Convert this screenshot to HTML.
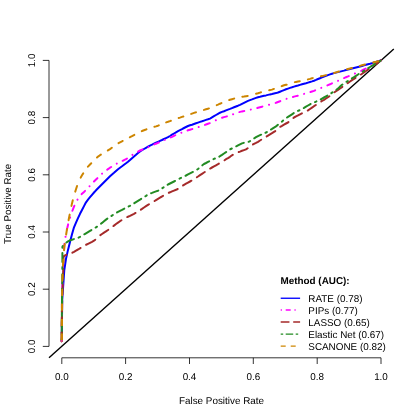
<!DOCTYPE html>
<html><head><meta charset="utf-8"><title>ROC</title>
<style>
html,body{margin:0;padding:0;background:#fff;}
body{width:419px;height:419px;overflow:hidden;}
svg{display:block;}
text{font-family:"Liberation Sans",sans-serif;font-size:9.9px;fill:#000;text-rendering:geometricPrecision;}
</style></head><body>
<svg width="419" height="419" viewBox="0 0 419 419">
<rect width="419" height="419" fill="#fff"/>
<line x1="49.0" y1="357.8" x2="393.8" y2="49.0" stroke="#000" stroke-width="1.4"/>
<path d="M61.7,341.3 L62.2,300.0 L64.3,270.0 L66.0,258.8 L68.0,249.9 L70.0,242.0 L72.0,234.3 L74.0,227.3 L76.0,222.7 L78.0,218.2 L80.0,213.8 L82.0,210.0 L84.0,206.1 L86.0,202.3 L88.0,199.7 L90.0,197.2 L92.0,194.8 L94.0,192.5 L96.0,190.3 L98.0,188.2 L100.0,186.2 L102.0,184.2 L104.0,182.2 L106.0,180.2 L108.0,178.2 L110.0,176.2 L112.0,174.4 L114.0,172.7 L116.0,170.9 L118.0,169.2 L120.0,167.7 L122.0,166.3 L124.0,164.8 L126.0,163.3 L128.0,161.7 L130.0,160.0 L132.0,158.2 L134.0,156.5 L136.0,154.8 L138.0,153.0 L140.0,151.4 L142.0,150.2 L144.0,149.0 L146.0,147.8 L148.0,146.7 L150.0,145.6 L152.0,144.7 L154.0,143.7 L156.0,142.7 L158.0,141.8 L160.0,140.9 L162.0,140.0 L164.0,139.0 L166.0,138.1 L168.0,137.2 L170.0,136.0 L172.0,134.7 L174.0,133.5 L176.0,132.3 L178.0,131.1 L180.0,130.1 L182.0,129.1 L184.0,128.0 L186.0,127.0 L188.0,126.0 L190.0,125.3 L192.0,124.7 L194.0,124.0 L196.0,123.3 L198.0,122.6 L200.0,121.9 L202.0,121.3 L204.0,120.6 L206.0,119.9 L208.0,119.3 L210.0,118.6 L212.0,117.4 L214.0,116.2 L216.0,115.0 L218.0,113.8 L220.0,112.7 L222.0,111.9 L224.0,111.2 L226.0,110.4 L228.0,109.6 L230.0,108.9 L232.0,108.1 L234.0,107.3 L236.0,106.5 L238.0,105.7 L240.0,104.8 L242.0,103.8 L244.0,102.8 L246.0,101.8 L248.0,100.9 L250.0,100.1 L252.0,99.4 L254.0,98.6 L256.0,97.9 L258.0,97.2 L260.0,96.8 L262.0,96.3 L264.0,95.8 L266.0,95.4 L268.0,94.9 L270.0,94.4 L272.0,94.0 L274.0,93.5 L276.0,93.1 L278.0,92.5 L280.0,91.7 L282.0,90.9 L284.0,90.1 L286.0,89.3 L288.0,88.6 L290.0,87.9 L292.0,87.3 L294.0,86.6 L296.0,86.0 L298.0,85.5 L300.0,84.9 L302.0,84.3 L304.0,83.7 L306.0,83.2 L308.0,82.6 L310.0,82.0 L312.0,81.4 L314.0,80.7 L316.0,79.9 L318.0,79.0 L320.0,78.2 L322.0,77.4 L324.0,76.6 L326.0,75.9 L328.0,75.1 L330.0,74.4 L332.0,73.7 L334.0,73.1 L336.0,72.6 L338.0,72.1 L340.0,71.6 L342.0,71.1 L344.0,70.6 L346.0,70.0 L348.0,69.5 L350.0,69.0 L352.0,68.5 L354.0,68.0 L356.0,67.5 L358.0,67.0 L360.0,66.5 L362.0,66.0 L364.0,65.4 L366.0,64.8 L368.0,64.2 L370.0,63.7 L372.0,63.1 L374.0,62.5 L376.0,61.9 L378.0,61.3 L380.0,60.7 L381.0,60.4" fill="none" stroke="#0000FF" stroke-width="2.0" stroke-linejoin="round" stroke-linecap="butt"/>
<path d="M61.7,341.3 L62.0,300.0 L62.8,270.0 L64.3,245.4 L66.0,233.4 L68.0,224.9 L70.0,217.8 L72.0,211.8 L74.0,206.6 L76.0,202.1 L78.0,198.8 L80.0,196.2 L82.0,193.7 L84.0,191.9 L86.0,190.0 L88.0,187.9 L90.0,185.7 L92.0,183.6 L94.0,181.5 L96.0,179.5 L98.0,177.6 L100.0,175.6 L102.0,173.7 L104.0,172.2 L106.0,170.6 L108.0,169.1 L110.0,167.7 L112.0,166.5 L114.0,165.2 L116.0,164.0 L118.0,163.0 L120.0,162.0 L122.0,161.1 L124.0,160.1 L126.0,159.2 L128.0,157.8 L130.0,156.3 L132.0,155.1 L134.0,153.9 L136.0,152.7 L138.0,151.6 L140.0,150.5 L142.0,149.7 L144.0,148.9 L146.0,148.1 L148.0,147.3 L150.0,146.4 L152.0,145.5 L154.0,144.6 L156.0,143.7 L158.0,142.9 L160.0,142.0 L162.0,141.2 L164.0,140.3 L166.0,139.4 L168.0,138.6 L170.0,137.7 L172.0,136.8 L174.0,135.8 L176.0,134.9 L178.0,134.0 L180.0,133.2 L182.0,132.5 L184.0,131.7 L186.0,131.0 L188.0,130.3 L190.0,129.7 L192.0,129.1 L194.0,128.5 L196.0,127.9 L198.0,127.3 L200.0,126.6 L202.0,125.9 L204.0,125.2 L206.0,124.5 L208.0,123.8 L210.0,123.1 L212.0,122.1 L214.0,121.1 L216.0,120.2 L218.0,119.2 L220.0,118.3 L222.0,117.7 L224.0,117.1 L226.0,116.6 L228.0,116.1 L230.0,115.4 L232.0,114.7 L234.0,114.0 L236.0,113.2 L238.0,112.5 L240.0,111.9 L242.0,111.4 L244.0,111.0 L246.0,110.5 L248.0,110.1 L250.0,109.8 L252.0,109.3 L254.0,108.8 L256.0,108.3 L258.0,107.7 L260.0,107.2 L262.0,106.7 L264.0,106.2 L266.0,105.7 L268.0,105.1 L270.0,104.5 L272.0,103.9 L274.0,103.4 L276.0,102.8 L278.0,102.0 L280.0,101.2 L282.0,100.4 L284.0,99.6 L286.0,99.0 L288.0,98.4 L290.0,97.8 L292.0,97.2 L294.0,96.6 L296.0,96.1 L298.0,95.6 L300.0,95.0 L302.0,94.5 L304.0,93.9 L306.0,93.3 L308.0,92.7 L310.0,92.1 L312.0,91.5 L314.0,90.9 L316.0,90.0 L318.0,89.2 L320.0,88.4 L322.0,87.6 L324.0,86.8 L326.0,86.0 L328.0,85.1 L330.0,84.3 L332.0,83.4 L334.0,82.5 L336.0,81.6 L338.0,80.8 L340.0,79.9 L342.0,79.0 L344.0,78.1 L346.0,77.2 L348.0,76.4 L350.0,75.5 L352.0,74.7 L354.0,73.9 L356.0,73.0 L358.0,72.2 L360.0,71.4 L362.0,70.5 L364.0,69.4 L366.0,68.4 L368.0,67.3 L370.0,66.2 L372.0,65.2 L374.0,64.1 L376.0,63.1 L378.0,62.0 L380.0,60.9 L381.0,60.4" fill="none" stroke="#FF00FF" stroke-width="2.0" stroke-linejoin="round" stroke-linecap="round" stroke-dasharray="0 6.91 0.17 6.92 5.49 6.92 0.17 6.92 5.49 6.92 0.17 6.92 5.49 6.92 0.17 6.92 5.5 6.93 0.18 6.93 5.57 6.97 0.19 6.97 5.63 7.02 0.21 7.02 5.35 6.81 0.14 6.81 4.82 6.41 0.02 6.41 4.84 6.43 0.02 6.43 4.93 6.5 0.03 6.5 4.96 6.52 0.04 6.52 4.85 6.43 0.02 6.43 4.93 6.5 0.03 6.5 4.98 6.54 0.05 6.54 5.05 6.59 0.06 6.59 5.16 6.67 0.09 6.67 5.01 6.56 0.05 6.56 5.09 6.62 0.07 6.62 5.34 6.8 0.13 6.8 5.06 6.59 0.06 6.59 5.02 6.56 0.05 6.56 5.02 6.57 0.06 6.57 5.03 6.57 0.06 6.57 5.15 6.66 0.09 6.66 5.15 6.66 0.09 6.66 3.78 50"/>
<path d="M61.7,341.3 L62.2,300.0 L63.2,270.0 L63.5,257.0 L64.5,255.6 L66.0,255.0 L68.0,254.3 L70.0,253.7 L72.0,252.9 L74.0,251.8 L76.0,250.6 L78.0,249.5 L80.0,248.3 L82.0,247.1 L84.0,245.9 L86.0,244.8 L88.0,243.8 L90.0,242.8 L92.0,241.8 L94.0,240.7 L96.0,239.1 L98.0,237.3 L100.0,235.4 L102.0,234.0 L104.0,232.6 L106.0,231.3 L108.0,230.0 L110.0,228.6 L112.0,227.2 L114.0,225.6 L116.0,224.0 L118.0,222.6 L120.0,221.2 L122.0,219.9 L124.0,218.8 L126.0,217.6 L128.0,216.7 L130.0,215.9 L132.0,214.8 L134.0,213.8 L136.0,212.7 L138.0,211.4 L140.0,210.2 L142.0,208.9 L144.0,207.5 L146.0,206.2 L148.0,204.9 L150.0,203.6 L152.0,202.5 L154.0,201.4 L156.0,200.1 L158.0,198.8 L160.0,197.6 L162.0,196.5 L164.0,195.3 L166.0,194.2 L168.0,193.1 L170.0,192.3 L172.0,191.4 L174.0,190.6 L176.0,189.8 L178.0,188.9 L180.0,187.5 L182.0,186.1 L184.0,184.9 L186.0,183.7 L188.0,182.6 L190.0,181.5 L192.0,180.4 L194.0,179.1 L196.0,177.8 L198.0,176.5 L200.0,175.1 L202.0,173.8 L204.0,172.5 L206.0,171.3 L208.0,170.0 L210.0,168.6 L212.0,167.5 L214.0,166.4 L216.0,165.3 L218.0,164.2 L220.0,163.0 L222.0,161.8 L224.0,160.7 L226.0,159.2 L228.0,158.1 L230.0,156.8 L232.0,155.3 L234.0,154.1 L236.0,153.2 L238.0,152.3 L240.0,151.6 L242.0,150.8 L244.0,150.1 L246.0,149.4 L248.0,148.0 L250.0,146.5 L252.0,145.0 L254.0,143.9 L256.0,142.9 L258.0,141.8 L260.0,140.5 L262.0,139.3 L264.0,138.0 L266.0,136.8 L268.0,135.6 L270.0,134.4 L272.0,133.2 L274.0,131.9 L276.0,130.7 L278.0,128.8 L280.0,126.9 L282.0,125.8 L284.0,124.6 L286.0,123.5 L288.0,122.5 L290.0,120.9 L292.0,119.0 L294.0,117.5 L296.0,116.4 L298.0,115.4 L300.0,114.3 L302.0,113.3 L304.0,112.4 L306.0,111.5 L308.0,110.4 L310.0,109.0 L312.0,107.6 L314.0,106.2 L316.0,104.9 L318.0,103.6 L320.0,102.2 L322.0,100.9 L324.0,99.8 L326.0,98.5 L328.0,97.2 L330.0,95.8 L332.0,94.1 L334.0,92.6 L336.0,91.2 L338.0,89.9 L340.0,88.5 L342.0,87.1 L344.0,85.7 L346.0,84.3 L348.0,82.9 L350.0,81.5 L352.0,80.1 L354.0,78.9 L356.0,77.6 L358.0,76.4 L360.0,75.1 L362.0,73.8 L364.0,72.4 L366.0,71.0 L368.0,69.6 L370.0,68.2 L372.0,66.8 L374.0,65.3 L376.0,63.9 L378.0,62.5 L380.0,61.1 L381.0,60.4" fill="none" stroke="#A52A2A" stroke-width="2.0" stroke-linejoin="round" stroke-linecap="round" stroke-dasharray="8.93 6.35 9.49 6.35 9.49 6.35 9.49 6.35 9.49 6.35 9.49 6.35 9.49 6.35 10.49 6.78 9.58 6.39 9.96 6.56 9.31 6.27 9.72 6.45 9.95 6.55 9.65 6.42 9.65 6.42 9.54 6.38 10.01 6.57 9.93 6.54 9.79 6.48 9.54 6.37 10.14 6.63 9.5 6.36 9.75 6.46 9.85 6.51 9.62 6.41 9.57 6.39 9.57 6.39 9.57 6.39 8.48 50"/>
<path d="M61.7,341.3 L62.0,300.0 L62.4,270.0 L62.4,247.0 L63.5,244.5 L66.0,242.8 L68.0,241.4 L70.0,240.3 L72.0,239.7 L74.0,239.1 L76.0,238.5 L78.0,237.9 L80.0,236.9 L82.0,235.7 L84.0,234.5 L86.0,233.3 L88.0,232.1 L90.0,230.9 L92.0,229.7 L94.0,228.5 L96.0,227.3 L98.0,226.1 L100.0,224.5 L102.0,222.9 L104.0,221.2 L106.0,219.6 L108.0,218.2 L110.0,216.9 L112.0,215.6 L114.0,214.3 L116.0,213.0 L118.0,211.9 L120.0,210.9 L122.0,209.9 L124.0,208.8 L126.0,207.8 L128.0,206.8 L130.0,205.8 L132.0,204.6 L134.0,203.4 L136.0,202.1 L138.0,200.9 L140.0,199.7 L142.0,198.4 L144.0,197.1 L146.0,195.9 L148.0,194.6 L150.0,193.6 L152.0,192.9 L154.0,192.1 L156.0,191.4 L158.0,190.7 L160.0,189.6 L162.0,188.3 L164.0,187.1 L166.0,185.8 L168.0,184.5 L170.0,183.5 L172.0,182.5 L174.0,181.5 L176.0,180.5 L178.0,179.4 L180.0,178.4 L182.0,177.4 L184.0,176.5 L186.0,175.5 L188.0,174.4 L190.0,173.4 L192.0,172.4 L194.0,171.4 L196.0,170.4 L198.0,169.0 L200.0,167.3 L202.0,165.6 L204.0,164.0 L206.0,163.0 L208.0,161.9 L210.0,160.8 L212.0,159.8 L214.0,158.9 L216.0,158.1 L218.0,157.3 L220.0,156.2 L222.0,154.9 L224.0,153.5 L226.0,152.2 L228.0,150.8 L230.0,149.4 L232.0,148.4 L234.0,147.4 L236.0,146.4 L238.0,145.4 L240.0,144.4 L242.0,143.4 L244.0,142.8 L246.0,142.4 L248.0,142.1 L250.0,141.1 L252.0,139.7 L254.0,138.4 L256.0,137.2 L258.0,136.1 L260.0,135.2 L262.0,134.3 L264.0,133.4 L266.0,132.5 L268.0,131.4 L270.0,130.1 L272.0,128.9 L274.0,127.6 L276.0,126.4 L278.0,124.8 L280.0,123.2 L282.0,121.6 L284.0,119.7 L286.0,118.2 L288.0,116.9 L290.0,115.6 L292.0,114.3 L294.0,113.0 L296.0,111.9 L298.0,110.9 L300.0,110.0 L302.0,109.0 L304.0,107.9 L306.0,106.7 L308.0,105.5 L310.0,104.3 L312.0,103.4 L314.0,102.5 L316.0,101.6 L318.0,100.6 L320.0,99.7 L322.0,98.6 L324.0,97.5 L326.0,96.4 L328.0,95.3 L330.0,94.0 L332.0,92.7 L334.0,91.4 L336.0,90.0 L338.0,88.5 L340.0,86.6 L342.0,84.8 L344.0,83.4 L346.0,82.1 L348.0,80.9 L350.0,79.6 L352.0,78.3 L354.0,77.1 L356.0,75.8 L358.0,74.5 L360.0,73.2 L362.0,72.1 L364.0,70.7 L366.0,69.4 L368.0,68.2 L370.0,67.0 L372.0,65.8 L374.0,64.6 L376.0,63.4 L378.0,62.2 L380.0,61.0 L381.0,60.4" fill="none" stroke="#228B22" stroke-width="2.0" stroke-linejoin="round" stroke-linecap="round" stroke-dasharray="2.2 5.2 2 5.2 9.2 5.2 2 5.2 9.2 5.2 2 5.2 9.2 5.2 2 5.2 8.96 5.12 1.92 5.12 8.33 4.91 1.71 4.91 8.28 4.89 1.69 4.89 8.23 4.88 1.68 4.88 8.21 4.87 1.67 4.87 8.17 4.86 1.66 4.86 7.72 4.71 1.51 4.71 8.46 4.95 1.75 4.95 8.33 4.91 1.71 4.91 7.98 4.79 1.59 4.79 8.32 4.91 1.71 4.91 8.35 4.92 1.72 4.92 7.85 4.75 1.55 4.75 8.47 4.96 1.76 4.96 8.02 4.81 1.61 4.81 7.97 4.79 1.59 4.79 7.59 4.66 1.46 4.66 8.03 4.81 1.61 4.81 8.03 4.81 1.61 4.81 8.03 4.81 1.61 50.56"/>
<path d="M61.7,341.3 L62.0,300.0 L62.6,270.0 L64.3,247.3 L66.0,235.3 L68.0,223.1 L70.0,212.9 L72.0,203.4 L74.0,195.4 L76.0,189.3 L78.0,182.9 L80.0,178.9 L82.0,175.2 L84.0,172.3 L86.0,169.5 L88.0,166.6 L90.0,164.5 L92.0,162.5 L94.0,160.5 L96.0,158.5 L98.0,156.6 L100.0,155.2 L102.0,154.0 L104.0,152.8 L106.0,151.6 L108.0,150.3 L110.0,149.1 L112.0,147.7 L114.0,146.2 L116.0,144.7 L118.0,143.4 L120.0,142.3 L122.0,141.3 L124.0,140.3 L126.0,139.3 L128.0,138.2 L130.0,137.2 L132.0,136.2 L134.0,135.1 L136.0,134.0 L138.0,132.8 L140.0,131.8 L142.0,131.0 L144.0,130.2 L146.0,129.5 L148.0,128.7 L150.0,128.0 L152.0,127.5 L154.0,126.9 L156.0,126.4 L158.0,125.7 L160.0,124.8 L162.0,124.0 L164.0,123.2 L166.0,122.4 L168.0,121.8 L170.0,121.1 L172.0,120.4 L174.0,119.7 L176.0,119.0 L178.0,118.2 L180.0,117.6 L182.0,116.9 L184.0,116.3 L186.0,115.6 L188.0,115.0 L190.0,114.3 L192.0,113.6 L194.0,112.9 L196.0,112.3 L198.0,111.6 L200.0,111.1 L202.0,110.5 L204.0,109.9 L206.0,109.3 L208.0,108.7 L210.0,108.1 L212.0,107.2 L214.0,106.3 L216.0,105.4 L218.0,104.6 L220.0,103.7 L222.0,102.9 L224.0,102.1 L226.0,101.3 L228.0,100.5 L230.0,99.8 L232.0,99.2 L234.0,98.6 L236.0,98.0 L238.0,97.4 L240.0,97.0 L242.0,96.7 L244.0,96.5 L246.0,96.2 L248.0,95.9 L250.0,95.4 L252.0,94.9 L254.0,94.4 L256.0,93.8 L258.0,93.3 L260.0,92.6 L262.0,92.1 L264.0,91.5 L266.0,91.0 L268.0,90.5 L270.0,90.1 L272.0,89.6 L274.0,88.9 L276.0,88.2 L278.0,87.4 L280.0,86.7 L282.0,86.0 L284.0,85.3 L286.0,84.8 L288.0,84.4 L290.0,83.9 L292.0,83.1 L294.0,82.3 L296.0,81.9 L298.0,81.5 L300.0,81.2 L302.0,80.8 L304.0,80.5 L306.0,79.9 L308.0,79.4 L310.0,78.9 L312.0,78.3 L314.0,77.8 L316.0,77.4 L318.0,76.9 L320.0,76.5 L322.0,76.1 L324.0,75.6 L326.0,75.1 L328.0,74.6 L330.0,74.1 L332.0,73.6 L334.0,73.0 L336.0,72.4 L338.0,71.8 L340.0,71.2 L342.0,70.5 L344.0,70.0 L346.0,69.5 L348.0,69.0 L350.0,68.5 L352.0,68.0 L354.0,67.5 L356.0,67.0 L358.0,66.4 L360.0,65.9 L362.0,65.3 L364.0,64.8 L366.0,64.3 L368.0,63.8 L370.0,63.4 L372.0,62.9 L374.0,62.3 L376.0,61.8 L378.0,61.2 L380.0,60.7 L381.0,60.4" fill="none" stroke="#CD8500" stroke-width="2.0" stroke-linejoin="round" stroke-linecap="round" stroke-dasharray="0 0.8 6.05 9.25 6.15 9.35 5.65 8.85 5.65 8.85 5.91 9.11 6.17 9.37 6.32 9.52 5.65 8.85 5.7 8.9 5.79 8.99 5.94 9.14 4.91 8.11 4.89 8.09 4.88 8.08 4.88 8.08 4.77 7.97 5.13 8.33 5.08 8.28 4.7 7.9 5.02 8.22 4.98 8.18 5.11 8.31 5.23 8.43 5.15 8.35 5.2 8.4 5.4 8.6 5.2 8.4 4.98 8.18 5.28 8.48 5.09 8.29 5.09 8.29 5.2 8.4 5.17 8.37 5.01 8.21 5.26 8.46 5.26 52.86"/>
<line x1="61.71" y1="340.2" x2="61.70" y2="341.6" stroke="#FF00FF" stroke-width="2.0"/>
<line x1="61.76" y1="333.2" x2="61.71" y2="340.2" stroke="#CD8500" stroke-width="2.0"/>
<line x1="61.77" y1="331.4" x2="61.76" y2="333.2" stroke="#A52A2A" stroke-width="2.0"/>
<line x1="61.81" y1="326.0" x2="61.77" y2="331.4" stroke="#228B22" stroke-width="2.0"/>
<line x1="61.86" y1="318.9" x2="61.81" y2="326.0" stroke="#CD8500" stroke-width="2.0"/>
<line x1="61.88" y1="316.5" x2="61.86" y2="318.9" stroke="#A52A2A" stroke-width="2.0"/>
<line x1="61.91" y1="312.3" x2="61.88" y2="316.5" stroke="#228B22" stroke-width="2.0"/>
<line x1="61.92" y1="310.5" x2="61.91" y2="312.3" stroke="#A52A2A" stroke-width="2.0"/>
<line x1="61.98" y1="303.4" x2="61.92" y2="310.5" stroke="#CD8500" stroke-width="2.0"/>
<line x1="62.02" y1="297.4" x2="61.98" y2="303.4" stroke="#228B22" stroke-width="2.0"/>
<g stroke="#000" stroke-width="0.8" fill="none">
<path d="M49.0,346.4 V60.4"/>
<path d="M49.0,346.4 H42.8"/>
<path d="M49.0,289.2 H42.8"/>
<path d="M49.0,232.0 H42.8"/>
<path d="M49.0,174.8 H42.8"/>
<path d="M49.0,117.6 H42.8"/>
<path d="M49.0,60.4 H42.8"/>
<path d="M61.8,357.8 H381.0"/>
<path d="M61.8,357.8 V364"/>
<path d="M125.6,357.8 V364"/>
<path d="M189.5,357.8 V364"/>
<path d="M253.3,357.8 V364"/>
<path d="M317.2,357.8 V364"/>
<path d="M381.0,357.8 V364"/>
</g>
<g style="will-change:transform">
<text x="61.8" y="379.6" text-anchor="middle">0.0</text>
<text transform="translate(34.5,346.4) rotate(-90)" text-anchor="middle">0.0</text>
<text x="125.6" y="379.6" text-anchor="middle">0.2</text>
<text transform="translate(34.5,289.2) rotate(-90)" text-anchor="middle">0.2</text>
<text x="189.5" y="379.6" text-anchor="middle">0.4</text>
<text transform="translate(34.5,232.0) rotate(-90)" text-anchor="middle">0.4</text>
<text x="253.3" y="379.6" text-anchor="middle">0.6</text>
<text transform="translate(34.5,174.8) rotate(-90)" text-anchor="middle">0.6</text>
<text x="317.2" y="379.6" text-anchor="middle">0.8</text>
<text transform="translate(34.5,117.6) rotate(-90)" text-anchor="middle">0.8</text>
<text x="381.0" y="379.6" text-anchor="middle">1.0</text>
<text transform="translate(34.5,60.4) rotate(-90)" text-anchor="middle">1.0</text>
<text x="221.5" y="403.5" text-anchor="middle">False Positive Rate</text>
<text transform="translate(11.4,203.9) rotate(-90)" text-anchor="middle" style="font-size:9.8px">True Positive Rate</text>
<text x="280.5" y="284.2" font-weight="bold">Method (AUC):</text>
<line x1="280.7" y1="298.25" x2="300.1" y2="298.25" stroke="#0000FF" stroke-width="1.35"/>
<text x="308.3" y="301.8">RATE (0.78)</text>
<line x1="280.7" y1="309.95" x2="299.4" y2="309.95" stroke="#FF00FF" stroke-width="1.35" stroke-dasharray="1.25 3.75 5.00 3.75"/>
<text x="308.3" y="313.8">PIPs (0.77)</text>
<line x1="280.7" y1="322.00" x2="300.1" y2="322.00" stroke="#A52A2A" stroke-width="1.35" stroke-dasharray="8.75 3.75"/>
<text x="308.3" y="325.9">LASSO (0.65)</text>
<line x1="280.7" y1="334.05" x2="300.1" y2="334.05" stroke="#228B22" stroke-width="1.35" stroke-dasharray="2.50 2.50 7.50 2.50"/>
<text x="308.3" y="337.9">Elastic Net (0.67)</text>
<line x1="280.7" y1="346.10" x2="300.1" y2="346.10" stroke="#CD8500" stroke-width="1.35" stroke-dasharray="5.00 5.00"/>
<text x="308.3" y="350.0">SCANONE (0.82)</text>
</g>
</svg></body></html>
